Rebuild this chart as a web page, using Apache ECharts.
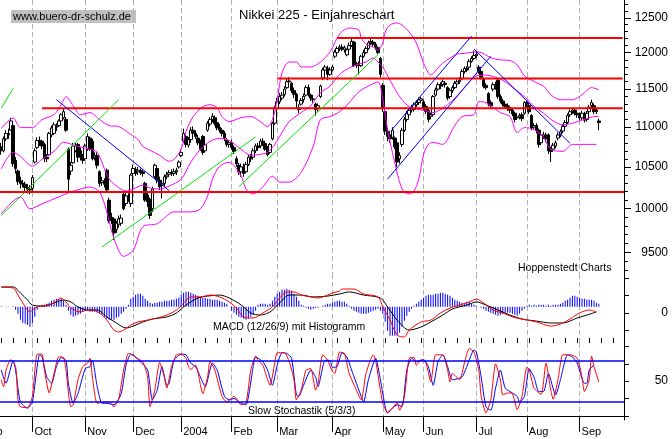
<!DOCTYPE html>
<html>
<head>
<meta charset="utf-8">
<title>Nikkei 225 - Einjahreschart</title>
<script src="https://cdn.jsdelivr.net/npm/echarts@6/dist/echarts.min.js"></script>
<style>
  html, body { margin: 0; padding: 0; background: #fff; }
  #chart { width: 672px; height: 439px; }
</style>
</head>
<body>
<div id="chart"></div>
<script>
// Nikkei 225, Sep 2003 - Sep 2004, daily candles
var monthNames = ['Sep', 'Oct', 'Nov', 'Dec', '2004', 'Feb', 'Mar', 'Apr', 'May', 'Jun', 'Jul', 'Aug', 'Sep'];
var monthDays = [13, 22, 20, 20, 21, 19, 23, 21, 17, 22, 21, 22, 9];
var emptySlots = 10;

// [open, close, low, high]
var ohlc = [
  [10750,10700,10650,10800],[10700,10850,10680,10880],[10850,10920,10820,10960],[10920,10900,10850,10980],
  [10960,11080,10950,11120],[11020,10540,10500,11060],[10580,10480,10420,10620],[10450,10320,10280,10470],
  [10330,10300,10240,10380],[10300,10290,10250,10340],[10290,10250,10200,10320],[10250,10230,10180,10290],
  [10230,10220,10170,10280],
  // Oct
  [10240,10370,10200,10400],[10560,10700,10540,10730],[10740,10830,10720,10870],[10830,10800,10760,10880],
  [10820,10760,10720,10840],[10780,10600,10560,10800],[10620,10600,10560,10660],[10650,10920,10640,10940],
  [10900,10990,10870,11020],[10920,11030,10900,11060],[11000,11010,10950,11050],[11020,11080,11000,11100],
  [11080,11160,11060,11180],[11120,11200,11100,11240],[11100,10960,10940,11130],[10720,10350,10200,10740],
  [10450,10520,10400,10560],[10550,10760,10540,10800],[10700,10760,10680,10800],[10780,10620,10560,10800],
  [10700,10620,10580,10740],[10620,10580,10540,10660],
  // Nov
  [10600,10760,10580,10790],[10720,10880,10700,10920],[10860,10720,10700,10880],[10820,10600,10580,10850],
  [10620,10640,10580,10680],[10640,10520,10480,10680],[10440,10300,10260,10460],[10310,10330,10270,10380],
  [10330,10290,10250,10360],[10460,10220,10190,10480],[10100,9860,9830,10130],[9900,9860,9820,9950],
  [9880,9720,9640,9900],[9760,9830,9720,9860],[9820,9880,9780,9920],[9830,9890,9800,9930],
  [10170,10000,9980,10200],[10060,10150,10030,10190],[10150,10110,10080,10180],[10060,10400,10020,10420],
  // Dec
  [10420,10480,10380,10530],[10470,10420,10390,10500],[10440,10460,10400,10500],[10460,10430,10400,10480],
  [10440,10420,10380,10470],[10300,10100,10080,10320],[10160,10080,10020,10200],[10110,9920,9880,10130],
  [10000,10230,9960,10260],[10380,10520,10360,10540],[10480,10340,10300,10500],[10340,10260,10220,10380],
  [10280,10300,10120,10340],[10300,10380,10260,10410],[10380,10400,10350,10440],[10410,10430,10380,10460],
  [10430,10420,10390,10470],[10420,10440,10390,10480],[10440,10460,10400,10490],[10500,10560,10480,10580],
  // 2004 Jan
  [10640,10680,10620,10720],[10820,10920,10800,10980],[10880,10780,10740,10900],[10770,10840,10740,10870],
  [10840,10960,10800,11000],[10960,10920,10880,11010],[10920,10880,10850,10960],[10860,10800,10770,10900],
  [10800,10720,10700,10840],[10880,10680,10650,10900],[10700,10780,10680,10820],[10960,11050,10940,11080],
  [11040,11100,11010,11130],[11100,11140,11060,11180],[11120,11050,11020,11150],[11060,10990,10960,11090],
  [11000,10960,10930,11040],[10960,10920,10880,10990],[10920,10860,10820,10950],[10830,10780,10750,10860],
  [10780,10800,10740,10830],
  // Feb
  [10800,10740,10710,10840],[10740,10690,10660,10770],[10600,10540,10500,10630],[10520,10440,10400,10550],
  [10440,10500,10380,10540],[10500,10420,10380,10540],[10440,10530,10420,10560],[10530,10620,10510,10650],
  [10620,10600,10560,10660],[10620,10700,10590,10730],[10700,10760,10670,10790],[10760,10740,10700,10800],
  [10760,10820,10730,10850],[10820,10800,10760,10860],[10790,10720,10700,10820],[10740,10650,10630,10760],
  [10680,10780,10660,10800],[10850,11050,10830,11070],[11050,11250,11030,11280],
  // Mar
  [11240,11330,11200,11380],[11330,11400,11300,11450],[11380,11420,11350,11460],[11430,11500,11400,11540],
  [11520,11600,11500,11650],[11600,11610,11560,11660],[11580,11480,11450,11600],[11480,11430,11380,11520],
  [11430,11340,11240,11450],[11230,11240,11180,11300],[11300,11350,11280,11380],[11360,11400,11320,11440],
  [11420,11520,11400,11550],[11520,11430,11400,11560],[11420,11380,11340,11440],[11360,11370,11320,11420],
  [11300,11230,11150,11320],[11240,11280,11200,11310],[11400,11540,11380,11560],[11650,11760,11620,11790],
  [11760,11800,11700,11830],[11780,11700,11620,11820],[11700,11760,11680,11800],
  // Apr
  [11760,11800,11740,11830],[11950,12010,11920,12040],[12000,12060,11980,12090],[12060,12080,12020,12110],
  [12080,12050,12020,12120],[12040,12070,12000,12100],[11970,12040,11950,12060],[12050,12100,12030,12140],
  [12100,12160,12080,12200],[12150,11820,11800,12170],[11830,11840,11790,11870],[11850,11820,11700,11880],
  [11820,11950,11800,11970],[11950,12000,11930,12040],[12000,12060,11980,12090],[12060,12140,12040,12170],
  [12140,12160,12110,12200],[12150,12120,12080,12180],[12120,12080,12040,12150],[12070,12000,11980,12090],
  [11920,11700,11660,11940],
  // May
  [11550,11250,11200,11580],[11200,10950,10900,11230],[10950,10880,10820,10990],[10900,10850,10800,10950],
  [10870,10960,10840,11000],[10860,10750,10720,10880],[10800,10560,10500,10820],[10600,10640,10540,10680],
  [10780,10960,10750,10990],[10960,11100,10940,11130],[11100,11180,11070,11210],[11160,11220,11130,11250],
  [11220,11260,11190,11290],[11230,11290,11200,11320],[11290,11320,11260,11350],[11320,11360,11290,11390],
  [11350,11370,11310,11400],
  // Jun
  [11330,11250,11220,11360],[11270,11200,11170,11300],[11220,11100,11060,11240],[11140,11160,11100,11190],
  [11160,11400,11140,11420],[11420,11490,11400,11520],[11500,11560,11480,11590],[11560,11540,11500,11590],
  [11560,11600,11530,11630],[11580,11560,11520,11610],[11520,11380,11350,11540],[11400,11480,11370,11510],
  [11480,11520,11450,11550],[11520,11580,11500,11610],[11570,11600,11540,11630],[11600,11620,11570,11660],
  [11640,11740,11620,11770],[11740,11780,11710,11810],[11780,11760,11730,11810],[11800,11880,11780,11910],
  [11880,11920,11860,11950],[11920,11960,11900,12030],
  // Jul
  [11960,11980,11930,12020],[11800,11740,11710,11830],[11740,11660,11630,11770],[11640,11540,11510,11660],
  [11550,11520,11490,11580],[11440,11300,11270,11460],[11320,11280,11250,11350],[11500,11560,11470,11590],
  [11560,11520,11490,11600],[11620,11400,11370,11640],[11400,11340,11310,11430],[11340,11300,11270,11370],
  [11300,11270,11240,11330],[11280,11240,11210,11310],[11250,11220,11180,11280],[11220,11170,11140,11250],
  [11180,11100,11060,11200],[11120,11130,11090,11160],[11130,11150,11100,11180],[11160,11110,11080,11190],
  [11180,11320,11160,11340],
  // Aug
  [11320,11300,11260,11350],[11280,11200,11170,11300],[11150,10990,10960,11170],[11000,11020,10970,11050],
  [11020,10960,10920,11050],[10960,10780,10740,10980],[10800,10900,10770,10930],[10880,10900,10850,10940],
  [10900,10850,10810,10930],[10900,10700,10660,10920],[10720,10690,10560,10750],[10720,10770,10690,10800],
  [10760,10800,10730,10830],[10860,10900,10830,10930],[10900,10940,10870,10970],[10950,11010,10920,11040],
  [11010,11060,10980,11090],[11060,11150,11040,11180],[11160,11200,11130,11230],[11200,11220,11170,11250],
  [11220,11180,11150,11250],[11180,11160,11120,11210],
  // Sep
  [11150,11120,11090,11190],[11120,11180,11090,11210],[11170,11090,11060,11200],[11100,11180,11070,11210],
  [11200,11260,11170,11290],[11280,11320,11250,11360],[11280,11200,11170,11310],[11220,11200,11170,11250],
  [11080,11060,10960,11110]
];

// Bollinger bands, [day index, price]
var bandUpper = [[0,10982],[5,11119],[8,10994],[13,10994],[17,11097],[22,11162],[25,11292],[27,11398],[30,11279],
  [33,11162],[37,11188],[41,11097],[45,11020],[49,11007],[54,10906],[57,10843],[59,10755],[62,10706],[66,10644],
  [70,10570],[72,10594],[75,10718],[77,10944],[80,11136],[84,11266],[87,11292],[90,11253],[92,11136],[95,11071],
  [100,11123],[104,11136],[108,11071],[111,11007],[113,11097],[115,11358],[117,11720],[120,11870],[123,11870],
  [125,11802],[129,11802],[133,11870],[137,12010],[141,12264],[145,12351],[149,12323],[150,12208],[152,12120],
  [155,12080],[157,12038],[159,12137],[160,12294],[162,12395],[165,12424],[167,12395],[170,12294],[173,12137],
  [176,11856],[179,11693],[182,11788],[184,11856],[187,11926],[190,11982],[193,11990],[197,12010],[199,12010],
  [204,11930],[208,11900],[212,11890],[215,11830],[218,11680],[221,11620],[224,11570],[226,11540],[229,11424],
  [233,11358],[238,11358],[242,11424],[246,11520],[249,11491]];
var bandMid = [[0,10472],[5,10681],[8,10631],[13,10508],[17,10594],[22,10693],[26,10805],[32,10755],[37,10718],
  [40,10681],[43,10480],[45,10351],[48,10268],[52,10208],[55,10232],[59,10279],[62,10244],[66,10232],[70,10268],
  [75,10351],[79,10557],[83,10718],[87,10818],[91,10856],[95,10830],[100,10718],[104,10644],[108,10656],
  [111,10681],[114,10780],[117,10931],[120,11071],[125,11188],[129,11280],[133,11451],[137,11540],[141,11700],
  [145,11788],[149,11842],[152,11870],[155,11926],[157,11870],[159,11800],[162,11620],[165,11450],[168,11320],
  [171,11250],[174,11230],[177,11210],[180,11188],[183,11227],[186,11292],[190,11411],[194,11560],[198,11680],
  [202,11690],[206,11660],[210,11600],[214,11500],[218,11400],[222,11270],[226,11180],[230,11080],[234,11030],
  [238,11050],[242,11090],[246,11130],[249,11140]];
var bandLower = [[0,9939],[8,10138],[12,9997],[17,10055],[24,10138],[29,10197],[33,10232],[37,10256],[41,10197],
  [44,9962],[47,9656],[51,9457],[55,9523],[59,9791],[65,9825],[72,9962],[79,9962],[83,9997],[86,10149],
  [88,10351],[91,10508],[95,10557],[100,10387],[102,10232],[105,10173],[109,10256],[113,10387],[116,10315],
  [120,10315],[125,10435],[130,10755],[133,11097],[137,11136],[141,11201],[145,11319],[149,11464],[154,11558],
  [157,11598],[159,11358],[161,10969],[163,10681],[167,10232],[170,10173],[172,10208],[174,10351],[176,10656],
  [178,10780],[180,10805],[184,10780],[186,10843],[188,10969],[192,11136],[197,11162],[199,11332],[202,11319],
  [208,11188],[212,11136],[215,10931],[218,10994],[222,10969],[226,10868],[229,10718],[234,10693],[238,10780],
  [242,10780],[248,10780]];

// support / resistance: [start day index, price]
var redLevels = [[140, 12208], [115, 11643], [17, 11245]];
var redFullLevel = 10205;
var blueTrends = [
  [[23, 11359], [70, 10212]],
  [[163, 10973], [196, 12237]],
  [[161, 10351], [204, 11950]],
  [[197, 12052], [237, 10794]]
];
var greenTrends = [
  [[0, 11245], [5, 11512]],
  [[0, 9920], [49, 11359]],
  [[42, 9561], [106, 10875]],
  [[99, 10259], [157, 11972]]
];

// MACD (12/26/9)
var macdLine = [[0,148],[5,144],[7,103],[9,57],[12,5],[13,16],[15,34],[19,45],[22,57],[25,86],[27,63],[29,28],
  [33,5],[36,16],[38,16],[41,-1],[44,-42],[47,-100],[49,-111],[51,-100],[54,-71],[57,-53],[61,-42],[65,-30],
  [69,-13],[73,16],[76,57],[79,92],[83,92],[87,103],[91,92],[95,63],[98,28],[101,-24],[105,-30],[109,-1],
  [113,34],[116,86],[119,121],[122,121],[125,103],[129,92],[132,86],[136,103],[138,115],[141,126],[142,138],
  [147,138],[151,109],[157,92],[159,34],[162,-42],[165,-129],[168,-140],[170,-100],[175,-53],[179,-42],[183,-1],
  [187,28],[191,45],[195,63],[198,80],[201,57],[205,16],[209,-1],[213,-24],[217,-36],[223,-53],[229,-77],
  [233,-65],[237,-36],[241,-1],[245,16],[248,5]];
var signalLine = [[0,150],[5,150],[8,115],[11,74],[13,45],[18,39],[22,57],[26,74],[29,63],[32,34],[36,16],[40,16],
  [44,-24],[48,-59],[52,-88],[55,-77],[59,-53],[63,-36],[69,-24],[73,-1],[77,45],[82,86],[86,97],[91,103],
  [95,86],[100,45],[104,-1],[108,-13],[112,5],[116,57],[120,103],[125,103],[130,92],[136,97],[141,109],
  [145,121],[151,103],[158,86],[161,34],[165,-42],[170,-100],[175,-82],[179,-53],[184,-13],[188,22],[194,45],
  [198,63],[202,45],[207,16],[212,-13],[217,-36],[223,-48],[229,-59],[234,-59],[240,-30],[244,-13],[248,5]];
var macdHist = [3,0,-3,2,0,3,
  -17,-40,-75,-93,-99,-105,-116,-93,-58,-17,
  6,12,12,17,23,35,41,46,46,46,35,12,
  -23,-46,-58,-52,-46,-41,-29,-17,-23,-29,-29,-29,
  -35,-41,-46,-58,-70,-75,-75,-75,-64,-58,-41,-29,-12,
  12,46,58,70,75,75,64,46,35,23,17,23,23,29,29,35,35,35,41,41,46,52,
  70,81,87,87,81,75,70,64,58,52,52,46,46,41,41,41,35,29,23,17,0,
  -23,-35,-46,-58,-64,-70,-75,-70,-58,-46,-23,
  12,17,17,17,12,17,35,58,75,87,99,99,104,99,93,75,58,35,12,6,
  -6,-12,-17,-12,-6,-6,0,6,12,17,17,
  23,29,35,35,29,29,17,6,-12,-23,-29,-35,-41,-41,-41,-35,-29,-23,-17,-12,-23,
  -41,-87,-139,-168,-168,-168,-168,-151,-116,-81,-52,-29,-12,
  6,17,29,41,52,64,70,70,70,75,75,81,81,75,70,64,52,41,35,29,23,23,29,29,17,12,6,
  0,-6,-12,-23,-29,-35,-41,-46,-52,-46,-41,-35,-35,-35,-41,-46,-52,-41,-23,-12,
  6,12,6,12,6,12,12,12,6,12,6,12,12,12,17,23,35,41,52,64,64,58,52,46,46,41,41,41,35,23,17];

// Slow Stochastik (5/3/3)
var stochK = [[0,52],[1,42],[2,66],[4,81],[6,71],[7,23],[8,13],[11,12],[13,28],[15,89],[17,89],[18,66],[20,33],
  [22,61],[24,85],[26,84],[27,66],[29,13],[30,16],[32,52],[34,71],[36,76],[37,83],[38,56],[40,18],[43,20],[45,20],
  [47,13],[49,25],[51,66],[53,90],[54,89],[56,84],[59,78],[61,56],[62,13],[64,37],[66,77],[68,56],[69,40],[71,71],
  [73,88],[75,89],[77,83],[78,71],[79,67],[81,73],[84,32],[86,56],[87,78],[89,66],[92,28],[94,20],[97,28],[98,25],
  [100,16],[102,18],[104,66],[106,86],[107,80],[109,73],[111,52],[112,44],[114,76],[115,91],[118,91],[120,78],
  [122,52],[123,23],[125,37],[127,66],[129,68],[131,37],[132,47],[134,88],[136,80],[138,64],[139,61],[141,92],
  [143,90],[145,61],[148,37],[150,23],[152,61],[155,88],[156,80],[159,18],[161,5],[163,11],[165,19],[166,8],
  [168,28],[170,83],[172,84],[173,73],[175,81],[177,76],[179,49],[181,88],[184,88],[186,66],[187,49],[188,61],
  [191,52],[193,76],[195,97],[197,92],[199,66],[200,28],[202,4],[204,23],[206,75],[208,52],[209,30],[211,33],
  [213,32],[215,9],[217,28],[219,70],[220,67],[222,40],[225,31],[227,76],[229,37],[230,24],[232,52],[234,88],
  [237,88],[240,83],[242,56],[243,35],[245,52],[246,86],[247,71],[249,49]];
var stochD = [[0,66],[2,47],[5,80],[6,66],[8,20],[11,11],[13,20],[16,88],[17,85],[19,56],[21,47],[23,71],[25,84],
  [27,80],[28,47],[30,18],[32,32],[35,68],[37,71],[38,80],[40,42],[42,18],[44,18],[47,16],[50,32],[52,73],[54,89],
  [55,88],[58,78],[61,66],[63,23],[65,37],[67,71],[69,44],[70,47],[72,80],[75,89],[77,88],[79,76],[81,71],[83,56],
  [85,42],[88,76],[90,66],[93,28],[95,23],[97,25],[100,18],[102,16],[105,71],[106,85],[109,78],[111,66],[113,44],
  [115,73],[117,91],[119,90],[121,83],[123,30],[124,28],[126,44],[129,66],[131,56],[132,42],[135,80],[137,80],
  [138,70],[140,71],[142,91],[144,85],[146,66],[150,28],[151,20],[153,52],[156,83],[158,52],[160,13],[161,4],
  [163,11],[165,16],[167,13],[169,66],[171,83],[173,78],[176,81],[178,71],[180,44],[182,78],[184,88],[186,71],
  [188,52],[192,56],[194,71],[197,95],[198,92],[200,56],[202,13],[204,8],[206,40],[208,66],[210,40],[213,33],
  [215,28],[216,20],[218,28],[220,68],[222,56],[224,35],[226,35],[228,61],[231,30],[233,52],[236,88],[238,85],
  [240,76],[243,47],[244,47],[245,66],[247,73]];

// right axis ticks
var priceLabels = [9500, 10000, 10500, 11000, 11500, 12000, 12500];
var macdTicks = [-100, 0, 100, 200];
var stochTicks = [0, 25, 50, 75, 100];

// category axis: one slot per trading day, month boundaries are labelled
var days = [];
monthNames.forEach(function (m, k) {
  for (var d = 0; d < monthDays[k]; d++) days.push(k + '|' + m + '|' + d);
});
for (var e = 0; e < emptySlots; e++) days.push('x|' + e);

function isMonthStart(index, value) {
  var p = String(value).split('|');
  return p.length === 3 && p[2] === '0' && p[0] !== '0';
}

var priceMinor = [];
for (var t = 9300; t <= 12700; t += 100) priceMinor.push(t);

var FONT = 'Arial, "Liberation Sans", sans-serif';
var lastSlot = days.length - 1;
var dash = { show: true, interval: isMonthStart, alignWithLabel: true,
  lineStyle: { color: '#b4b4b4', width: 1, type: [5, 3] } };
var plainNumber = function (v) { return String(Math.round(v)); };

function hiddenX(grid) {
  return {
    type: 'category', gridIndex: grid, data: days, boundaryGap: true,
    axisLine: { show: false }, axisTick: { show: false, alignWithLabel: true }, axisLabel: { show: false },
    splitLine: dash
  };
}

function segment(points, color, width) {
  return {
    type: 'line', xAxisIndex: 0, yAxisIndex: 0, data: points, showSymbol: false, silent: true,
    lineStyle: { color: color, width: width }, z: 4
  };
}

var series = [
  {
    name: 'Nikkei 225', type: 'candlestick', xAxisIndex: 0, yAxisIndex: 0, data: ohlc,
    barWidth: 3,
    itemStyle: { color: '#ffffff', color0: '#000000', borderColor: '#000000', borderColor0: '#000000', borderWidth: 1 },
    markLine: {
      silent: true, symbol: 'none', label: { show: false },
      lineStyle: { color: '#ff0000', width: 2, type: 'solid' },
      data: [{ yAxis: redFullLevel }]
    }
  }
];

[bandUpper, bandMid, bandLower].forEach(function (band) {
  series.push({
    type: 'line', xAxisIndex: 0, yAxisIndex: 0, data: band, showSymbol: false, silent: true,
    smooth: 0.3, lineStyle: { color: '#ff00ff', width: 1 }, z: 3
  });
});

redLevels.forEach(function (lv) {
  series.push(segment([[lv[0], lv[1]], [lastSlot, lv[1]]], '#ff0000', 2));
});
blueTrends.forEach(function (s) { series.push(segment(s, '#0000ff', 1)); });
greenTrends.forEach(function (s) { series.push(segment(s, '#00e600', 1)); });

// MACD panel
series.push({
  type: 'bar', xAxisIndex: 1, yAxisIndex: 3, data: macdHist, barWidth: 1, silent: true,
  itemStyle: { color: '#0000ff' }
});
series.push({
  type: 'line', xAxisIndex: 1, yAxisIndex: 2, data: signalLine, showSymbol: false, silent: true,
  smooth: 0.3, lineStyle: { color: '#000000', width: 1 }
});
series.push({
  type: 'line', xAxisIndex: 1, yAxisIndex: 2, data: macdLine, showSymbol: false, silent: true,
  smooth: 0.3, lineStyle: { color: '#ff0000', width: 1 }
});

// stochastic panel
series.push({
  type: 'line', xAxisIndex: 2, yAxisIndex: 4, data: stochD, showSymbol: false, silent: true,
  smooth: 0.2, lineStyle: { color: '#0000ff', width: 1 },
  markLine: {
    silent: true, symbol: 'none', label: { show: false },
    lineStyle: { color: '#0000ff', width: 1.5, type: 'solid' },
    data: [{ yAxis: 80 }, { yAxis: 20 }]
  }
});
series.push({
  type: 'line', xAxisIndex: 2, yAxisIndex: 4, data: stochK, showSymbol: false, silent: true,
  smooth: 0.2, lineStyle: { color: '#ff0000', width: 1 }
});

var option = {
  animation: false,
  backgroundColor: '#ffffff',
  textStyle: { fontFamily: FONT },
  grid: [
    { left: 0, right: 48, top: 0, height: 274, containLabel: false },
    { left: 0, right: 48, top: 274, height: 69, containLabel: false },
    { left: 0, right: 48, top: 343, height: 77, containLabel: false }
  ],
  xAxis: [
    hiddenX(0),
    hiddenX(1),
    {
      type: 'category', gridIndex: 2, data: days, boundaryGap: true,
      axisLine: { show: true, lineStyle: { color: '#000', width: 1 } },
      axisTick: { show: true, length: 16, interval: isMonthStart, alignWithLabel: true, lineStyle: { color: '#000' } },
      axisLabel: {
        show: true, interval: isMonthStart, align: 'left', margin: 6, padding: [0, 0, 0, 2],
        color: '#000', fontSize: 11, fontFamily: FONT,
        formatter: function (v) { return String(v).split('|')[1]; }
      },
      splitLine: dash
    },
    {
      type: 'category', gridIndex: 2, data: days, boundaryGap: true,
      axisLine: { show: false },
      axisTick: { show: true, length: 5, alignWithLabel: true, lineStyle: { color: '#000' },
        interval: function (i) { return i % 5 === 0; } },
      axisLabel: { show: false }, splitLine: { show: false }
    }
  ],
  yAxis: [
    {
      type: 'log', logBase: 10, gridIndex: 0, min: 9264, max: 12763, position: 'right',
      axisLine: { show: true, lineStyle: { color: '#000' } },
      axisTick: { show: true, length: 4, customValues: priceMinor, lineStyle: { color: '#000' } },
      axisLabel: { show: false }, splitLine: { show: false }
    },
    {
      type: 'log', logBase: 10, gridIndex: 0, min: 9264, max: 12763, position: 'right',
      axisLine: { show: false },
      axisTick: { show: true, length: 7, customValues: priceLabels, lineStyle: { color: '#000' } },
      axisLabel: { show: true, customValues: priceLabels, align: 'right', margin: 44, color: '#000',
        fontSize: 12, fontFamily: FONT, formatter: plainNumber },
      splitLine: { show: false }
    },
    {
      type: 'value', gridIndex: 1, min: -175, max: 225, position: 'right',
      axisLine: { show: true, lineStyle: { color: '#000' } },
      axisTick: { show: true, length: 5, customValues: macdTicks, lineStyle: { color: '#000' } },
      axisLabel: { show: true, customValues: [0], align: 'right', margin: 44, color: '#000',
        fontSize: 12, fontFamily: FONT, formatter: plainNumber },
      splitLine: { show: false }
    },
    {
      type: 'value', gridIndex: 1, min: -210, max: 190, show: false, splitLine: { show: false }
    },
    {
      type: 'value', gridIndex: 2, min: -6, max: 105, position: 'right',
      axisLine: { show: true, lineStyle: { color: '#000' } },
      axisTick: { show: true, length: 5, customValues: stochTicks, lineStyle: { color: '#000' } },
      axisLabel: { show: true, customValues: [50], align: 'right', margin: 44, color: '#000',
        fontSize: 12, fontFamily: FONT, formatter: plainNumber },
      splitLine: { show: false }
    }
  ],
  graphic: [
    { type: 'rect', shape: { x: 11, y: 10, width: 125, height: 13 }, style: { fill: '#c0c0c0' }, silent: true },
    { type: 'text', x: 13, y: 16.5, style: { text: 'www.buero-dr-schulz.de', font: '11px ' + FONT, fill: '#000', verticalAlign: 'middle' }, silent: true },
    { type: 'text', x: 239, y: 15, style: { text: 'Nikkei 225 - Einjahreschart', font: '13px ' + FONT, fill: '#000', verticalAlign: 'middle' }, silent: true },
    { type: 'text', x: 518, y: 268, style: { text: 'Hoppenstedt Charts', font: '10.5px ' + FONT, fill: '#000', verticalAlign: 'middle' }, silent: true },
    { type: 'text', x: 213, y: 327, style: { text: 'MACD (12/26/9) mit Histogramm', font: '10.5px ' + FONT, fill: '#000', verticalAlign: 'middle' }, silent: true },
    { type: 'text', x: 248, y: 411, style: { text: 'Slow Stochastik (5/3/3)', font: '10.5px ' + FONT, fill: '#000', verticalAlign: 'middle' }, silent: true },
    { type: 'text', x: -17, y: 432, style: { text: 'Sep', font: '11px ' + FONT, fill: '#000', verticalAlign: 'middle' }, silent: true }
  ],
  series: series
};

var chart = echarts.init(document.getElementById('chart'), null, { renderer: 'canvas' });
chart.setOption(option);
</script>
</body>
</html>
